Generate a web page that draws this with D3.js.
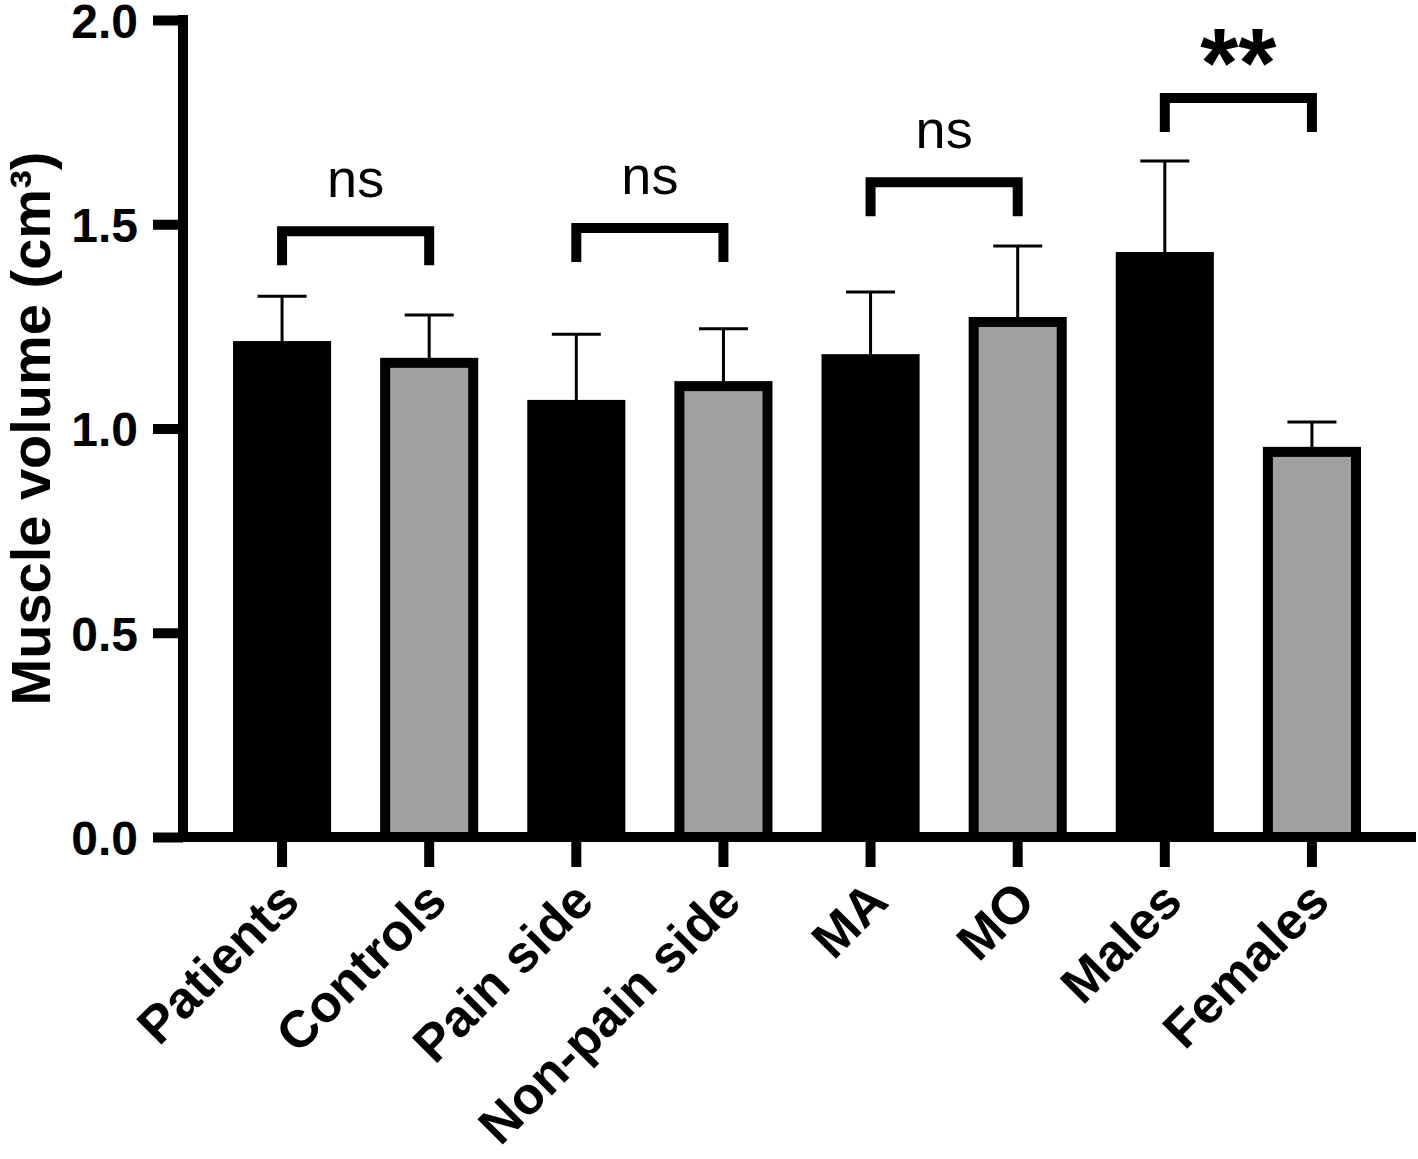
<!DOCTYPE html>
<html>
<head>
<meta charset="utf-8">
<script src="https://cdn.jsdelivr.net/npm/d3@7/dist/d3.min.js"></script>
<style>
  html, body { margin: 0; padding: 0; background: #fff; }
  svg { display: block; font-family: "Liberation Sans", Arial, Helvetica, sans-serif; }
</style>
</head>
<body>
<svg id="chart" width="1418" height="1159"></svg>
<script>
// ---- Data ----
const categories = ["Patients", "Controls", "Pain side", "Non-pain side", "MA", "MO", "Males", "Females"];
const groups = ["first", "second", "first", "second", "first", "second", "first", "second"];
const means = [1.214, 1.173, 1.070, 1.116, 1.182, 1.273, 1.432, 0.955];
const errors = [0.110, 0.105, 0.161, 0.128, 0.152, 0.174, 0.223, 0.061];
const yTicks = [0.0, 0.5, 1.0, 1.5, 2.0];
const comparisonFrom = ["Patients", "Pain side", "MA", "Males"];
const comparisonTo = ["Controls", "Non-pain side", "MO", "Females"];
const comparisonHeights = [1.483, 1.491, 1.603, 1.809];
const comparisonLabels = ["ns", "ns", "ns", "**"];
const yTitle = "Muscle volume (cm³)";

// ---- Layout ----
const svg = d3.select("#chart");
const yAxisX = 183;
const x = d3.scaleBand()
  .domain(categories)
  .range([208.5, 1385.5])
  .paddingInner(1 / 3)
  .paddingOuter(1 / 6);
const y = d3.scaleLinear().domain([0, 2]).range([837, 20]);

const color = d3.scaleOrdinal().domain(["first", "second"]).range(["#000000", "#a0a0a0"]);
const AXW = 10;

const data = categories.map((c, i) => ({ cat: c, mean: means[i], err: errors[i], group: groups[i] }));
const bw = x.bandwidth();

// Error bars
const eg = svg.append("g");
data.forEach(d => {
  const cx = x(d.cat) + bw / 2;
  eg.append("line")
    .attr("x1", cx).attr("x2", cx)
    .attr("y1", y(d.mean) + 2).attr("y2", y(d.mean + d.err))
    .attr("stroke", "#000").attr("stroke-width", 3);
  eg.append("line")
    .attr("x1", cx - 24.5).attr("x2", cx + 24.5)
    .attr("y1", y(d.mean + d.err)).attr("y2", y(d.mean + d.err))
    .attr("stroke", "#000").attr("stroke-width", 3);
});

// Bars
svg.append("g").selectAll("rect")
  .data(data)
  .join("rect")
  .attr("x", d => x(d.cat) + AXW / 2)
  .attr("width", bw - AXW)
  .attr("y", d => y(d.mean) + AXW / 2)
  .attr("height", d => y(0) - y(d.mean) - AXW / 2)
  .attr("fill", d => color(d.group))
  .attr("stroke", "#000")
  .attr("stroke-width", AXW);

// Y axis
const yAxis = d3.axisLeft(y)
  .tickValues(yTicks)
  .tickFormat(d3.format(".1f"))
  .tickSize(30)
  .tickSizeOuter(0)
  .tickPadding(15);
const yg = svg.append("g").attr("transform", `translate(${yAxisX},0)`).call(yAxis);
yg.select(".domain").remove();
yg.selectAll(".tick line").attr("stroke", "#000").attr("stroke-width", AXW);
yg.selectAll(".tick text")
  .attr("fill", "#000")
  .attr("dy", "0.36em")
  .style("font-size", "48px")
  .style("font-weight", "bold")
  .style("font-family", "'Liberation Sans', Arial, sans-serif");

svg.append("line")
  .attr("x1", yAxisX).attr("x2", yAxisX)
  .attr("y1", y(2) - AXW / 2).attr("y2", y(0) + AXW / 2)
  .attr("stroke", "#000").attr("stroke-width", AXW);

// X axis
const xAxis = d3.axisBottom(x).tickSize(30).tickSizeOuter(0).tickFormat("");
const xg = svg.append("g").attr("transform", `translate(0,${y(0)})`).call(xAxis);
xg.select(".domain").remove();
xg.selectAll(".tick line").attr("stroke", "#000").attr("stroke-width", AXW);

svg.append("line")
  .attr("x1", yAxisX - AXW / 2).attr("x2", 1416)
  .attr("y1", y(0)).attr("y2", y(0))
  .attr("stroke", "#000").attr("stroke-width", AXW);

// X labels rotated
svg.append("g").selectAll("text")
  .data(categories)
  .join("text")
  .attr("transform", d => `translate(${x(d) + bw / 2 + 20},904) rotate(-45)`)
  .attr("text-anchor", "end")
  .style("font-size", "52px")
  .style("font-weight", "bold")
  .attr("fill", "#000")
  .text(d => d);

// Y title
svg.append("text")
  .attr("transform", `translate(50,${(y(0) + y(2)) / 2}) rotate(-90)`)
  .attr("text-anchor", "middle")
  .style("font-size", "56px")
  .style("font-weight", "bold")
  .attr("fill", "#000")
  .text(yTitle);

// Comparison brackets
const bg = svg.append("g");
comparisonFrom.forEach((f, i) => {
  const x1 = x(f) + bw / 2;
  const x2 = x(comparisonTo[i]) + bw / 2;
  const yy = y(comparisonHeights[i]);
  const yb = yy + 34;
  bg.append("path")
    .attr("d", `M${x1},${yb}L${x1},${yy}L${x2},${yy}L${x2},${yb}`)
    .attr("fill", "none")
    .attr("stroke", "#000")
    .attr("stroke-width", AXW)
    .attr("stroke-linejoin", "miter");
  const isStar = comparisonLabels[i].includes("*");
  bg.append("text")
    .attr("x", (x1 + x2) / 2)
    .attr("y", isStar ? yy - 1 : yy - 34)
    .attr("text-anchor", "middle")
    .style("font-size", isStar ? "98px" : "54px")
    .style("font-weight", isStar ? "bold" : "normal")
    .attr("fill", "#000")
    .text(comparisonLabels[i]);
});
</script>
</body>
</html>
